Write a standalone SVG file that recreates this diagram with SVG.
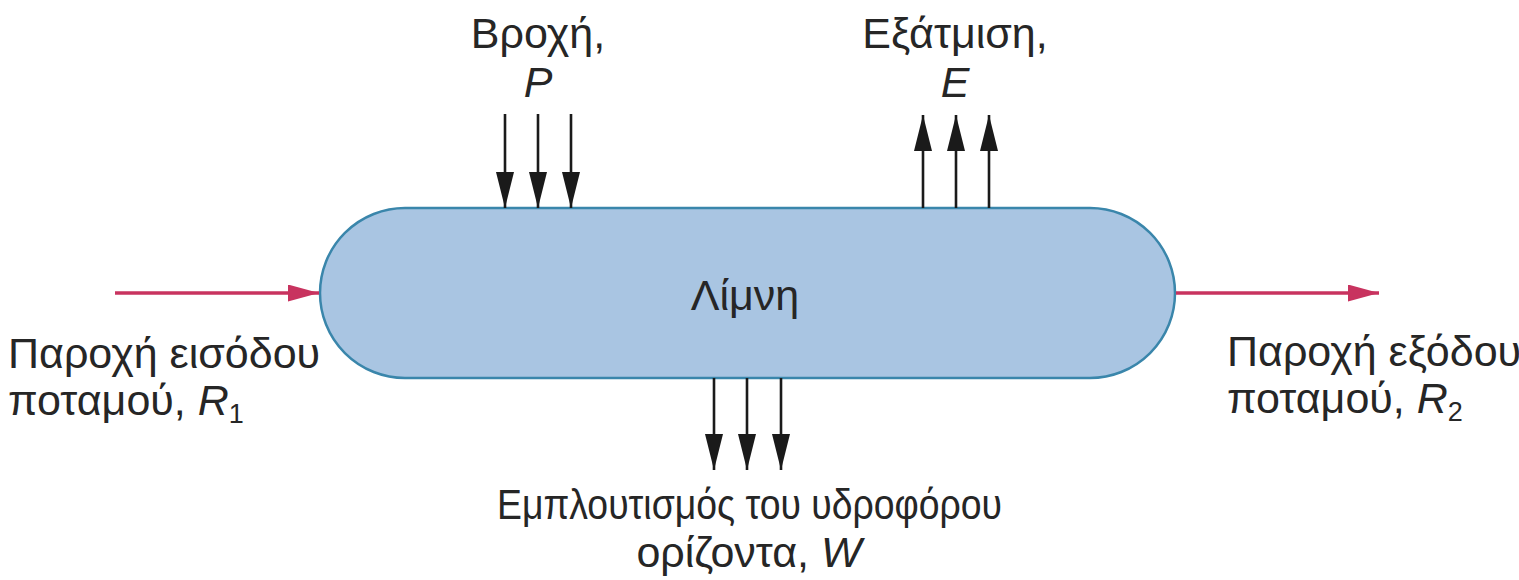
<svg xmlns="http://www.w3.org/2000/svg" width="1519" height="580" viewBox="0 0 1519 580">
<style>
text{font-family:"Liberation Sans",Arial,sans-serif;font-size:43px;fill:#262626}
.i{font-style:italic}
.blk{stroke:#1a1a1a;stroke-width:2.6;fill:none}
.red{stroke:#c8335f;stroke-width:3.5;fill:none}
</style>
<defs>
<marker id="ab" markerUnits="userSpaceOnUse" markerWidth="37" markerHeight="19" refX="36" refY="9" orient="auto" viewBox="0 0 37 19">
<path d="M0,0 L36,9 L0,18 z" fill="#1a1a1a"/>
</marker>
<marker id="ar" markerUnits="userSpaceOnUse" markerWidth="32" markerHeight="18" refX="31" refY="8.5" orient="auto" viewBox="0 0 32 18">
<path d="M0,0 L31,8.5 L0,17 z" fill="#c8335f"/>
</marker>
</defs>
<g id="lake">
<rect x="320" y="208" width="855" height="170" rx="85" ry="85" fill="#a9c5e2" stroke="#3a86ab" stroke-width="2.5"/>
<text x="745" y="310" text-anchor="middle">Λίμνη</text>
</g>
<g id="connectors">
<line class="blk" x1="505" y1="114" x2="505" y2="208" marker-end="url(#ab)"/>
<line class="blk" x1="538" y1="114" x2="538" y2="208" marker-end="url(#ab)"/>
<line class="blk" x1="571" y1="114" x2="571" y2="208" marker-end="url(#ab)"/>
<line class="blk" x1="923" y1="208" x2="923" y2="115" marker-end="url(#ab)"/>
<line class="blk" x1="956" y1="208" x2="956" y2="115" marker-end="url(#ab)"/>
<line class="blk" x1="989" y1="208" x2="989" y2="115" marker-end="url(#ab)"/>
<line class="blk" x1="714" y1="378" x2="714" y2="470" marker-end="url(#ab)"/>
<line class="blk" x1="747" y1="378" x2="747" y2="470" marker-end="url(#ab)"/>
<line class="blk" x1="781" y1="378" x2="781" y2="470" marker-end="url(#ab)"/>
<line class="red" x1="115" y1="293" x2="319" y2="293" marker-end="url(#ar)"/>
<line class="red" x1="1176" y1="293" x2="1379" y2="293" marker-end="url(#ar)"/>
</g>
<g id="rain">
<text x="538" y="48" text-anchor="middle">Βροχή,</text>
<text x="538" y="97" text-anchor="middle" class="i">P</text>
</g>
<g id="evaporation">
<text x="955" y="48" text-anchor="middle">Εξάτμιση,</text>
<text x="955" y="97" text-anchor="middle" class="i">E</text>
</g>
<g id="inflow">
<text x="8" y="368">Παροχή εισόδου</text>
<text x="8" y="415">ποταμού, <tspan class="i">R</tspan><tspan font-size="27" dy="8">1</tspan></text>
</g>
<g id="outflow">
<text x="1227" y="366">Παροχή εξόδου</text>
<text x="1227" y="413">ποταμού, <tspan class="i">R</tspan><tspan font-size="27" dy="8">2</tspan></text>
</g>
<g id="groundwater">
<text x="497" y="519" textLength="505" lengthAdjust="spacingAndGlyphs">Εμπλουτισμός του υδροφόρου</text>
<text x="749" y="567" text-anchor="middle">ορίζοντα, <tspan class="i">W</tspan></text>
</g>
</svg>
